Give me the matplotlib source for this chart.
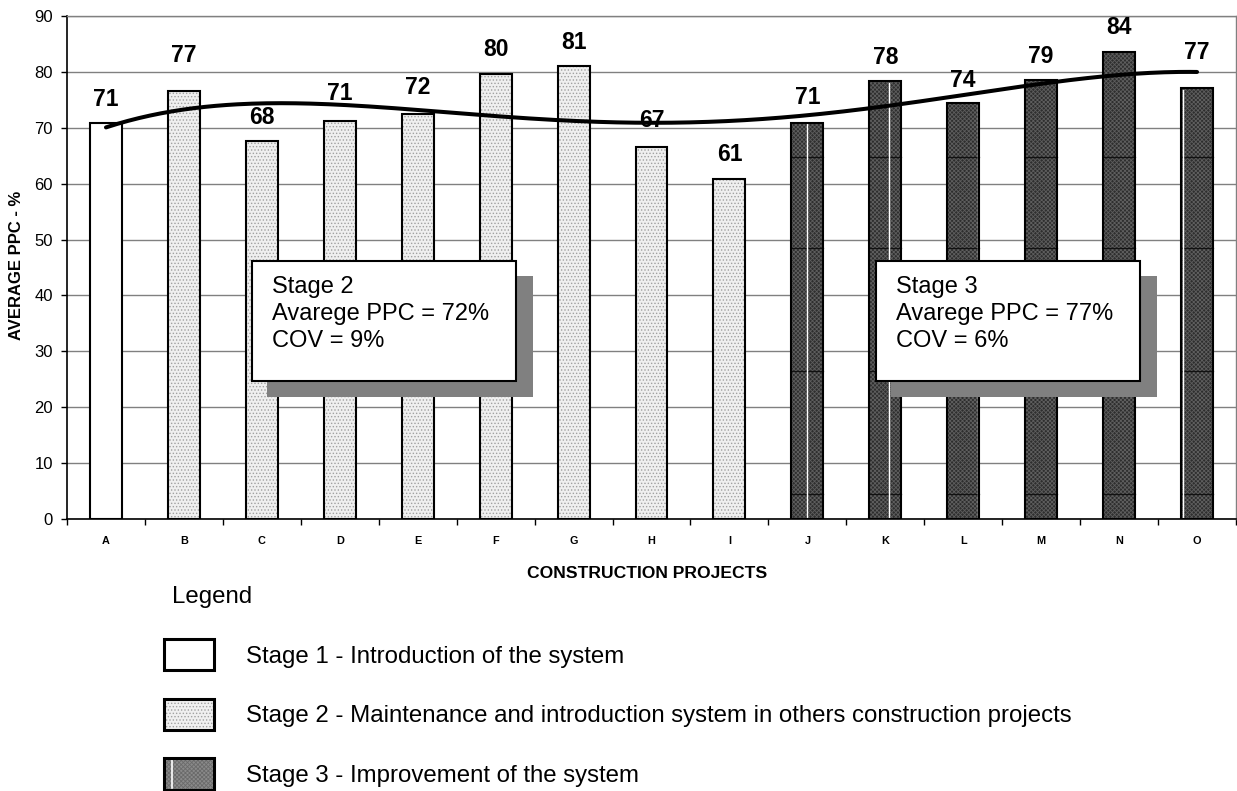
import numpy as np
import matplotlib
matplotlib.use("Agg")
import matplotlib.pyplot as plt
from matplotlib.patches import Rectangle

plt.rcParams['font.family'] = ['Liberation Sans', 'DejaVu Sans']
plt.rcParams['hatch.linewidth'] = 0.6

# ---- data ----
projects = ["A", "B", "C", "D", "E", "F", "G", "H", "I", "J", "K", "L", "M", "N", "O"]
ppc = [70.8, 76.6, 67.6, 71.3, 72.4, 79.6, 81.1, 66.6, 60.8, 70.9, 78.4, 74.4, 78.5, 83.6, 77.1]
stage = [1, 2, 2, 2, 2, 2, 2, 2, 2, 3, 3, 3, 3, 3, 3]
labels = ["71", "77", "68", "71", "72", "80", "81", "67", "61", "71", "78", "74", "79", "84", "77"]
label_offset = [4.3, 6.4, 4.3, 4.8, 4.8, 4.4, 4.2, 4.7, 4.5, 4.5, 4.2, 4.1, 4.2, 4.4, 6.3]
stage_stats = {2: ("72%", "9%"), 3: ("77%", "6%")}
legend_texts = ["Stage 1 - Introduction of the system",
                "Stage 2 - Maintenance and introduction system in others construction projects",
                "Stage 3 - Improvement of the system"]

W, H = 1237, 791
fig = plt.figure(figsize=(W / 100, H / 100), dpi=100)
L, R, T, B = 67, 1236, 16, 519
ax = fig.add_axes([L / W, 1 - B / H, (R - L) / W, (B - T) / H])

def fx(px):
    return px / W

def fy(py):
    return 1 - py / H

x = np.arange(len(projects))
ppc_arr = np.array(ppc)
stage_arr = np.array(stage)
bw = 0.41

styles = {
    1: dict(face="white", hatch=None, hcol="white"),
    2: dict(face="#efefef", hatch=".....", hcol="#a0a0a0"),
    3: dict(face="#2e2e2e", hatch="xxxxxxxx", hcol="#5e5e5e"),
}

for s in (1, 2, 3):
    m = stage_arr == s
    st = styles[s]
    ax.bar(x[m], ppc_arr[m], width=bw, color=st["face"], edgecolor=st["hcol"],
           hatch=st["hatch"], linewidth=0, zorder=2)
    ax.bar(x[m], ppc_arr[m], width=bw, facecolor="none", edgecolor="black",
           linewidth=1.5, zorder=3)
    if s == 3:
        for xi, v in zip(x[m], ppc_arr[m]):
            for yl in (4.4, 26.4, 48.4, 64.8):
                if yl < v:
                    ax.plot([xi - bw / 2, xi + bw / 2], [yl, yl], color="#111111",
                            lw=0.9, zorder=2.5)

# thin white streaks visible in some stage-3 bars of the original
streaks = {"J": 0.0, "K": 0.045, "L": 0.185, "O": -0.18}
for name, dx in streaks.items():
    i = projects.index(name)
    ax.plot([i + dx, i + dx], [0.3, ppc[i] - 0.3], color="white", lw=1.0, zorder=2.6)

# value labels
for xi, v, lab, off in zip(x, ppc, labels, label_offset):
    ax.text(xi, v + off, lab, ha="center", va="center", fontsize=16.5,
            fontweight="bold", zorder=6)

# polynomial trendline (4th order, as in the original spreadsheet chart)
coef = np.polyfit(x, ppc_arr, 4)
xs = np.linspace(x[0], x[-1], 300)
ax.plot(xs, np.polyval(coef, xs), color="black", lw=2.9, solid_capstyle="round", zorder=5)

# axes styling
ax.set_xlim(-0.5, len(projects) - 0.5)
ax.set_ylim(0, 90)
ax.set_yticks(np.arange(0, 91, 10))
ax.yaxis.grid(True, color="#808080", lw=1.0)
ax.set_axisbelow(True)
ax.set_xticks(x)
ax.set_xticklabels(projects, fontsize=7.8, fontweight="bold")
ax.set_xticks(np.arange(-0.5, len(projects), 1.0), minor=True)
ax.tick_params(axis="x", which="major", length=0, pad=12)
ax.tick_params(axis="x", which="minor", length=4, width=1, color="black", direction="out")
ax.tick_params(axis="y", length=4, width=1, pad=6, labelsize=12)
for side in ("top", "right"):
    ax.spines[side].set_color("#808080")
    ax.spines[side].set_linewidth(1.0)
for side in ("left", "bottom"):
    ax.spines[side].set_color("black")
    ax.spines[side].set_linewidth(1.2)

fig.text(fx(17), fy(265), "AVERAGE PPC - %", rotation=90, ha="center", va="center",
         fontsize=12, fontweight="bold")
fig.text(fx(647), fy(574), "CONSTRUCTION PROJECTS", ha="center", va="center",
         fontsize=12.6, fontweight="bold")

# stage statistics boxes with shadow
for s, bx in ((2, 252), (3, 876)):
    avg, cov = stage_stats[s]
    fig.patches.append(Rectangle((fx(bx + 15), fy(397)), 266 / W, 121 / H,
                                 transform=fig.transFigure, facecolor="#808080",
                                 edgecolor="none", zorder=7))
    fig.patches.append(Rectangle((fx(bx), fy(381)), 264 / W, 120 / H,
                                 transform=fig.transFigure, facecolor="white",
                                 edgecolor="black", lw=1.5, zorder=8))
    for yb, line in zip((293, 320, 347), (f"Stage {s}", f"Avarege PPC = {avg}", f"COV = {cov}")):
        fig.text(fx(bx + 20), fy(yb), line, ha="left", va="baseline", fontsize=17, zorder=9)

# legend
fig.text(fx(172), fy(603), "Legend", ha="left", va="baseline", fontsize=17.3)
leg_styles = {1: ("white", "white", None), 2: ("#efefef", "#a0a0a0", "....."),
              3: ("#8a8a8a", "#6a6a6a", "xxxxxxxx")}
for s, txt, (top, bot), base in zip((1, 2, 3), legend_texts,
                                    ((639, 670), (699, 730), (758, 790)),
                                    (663, 722, 782)):
    face, hc, hatch = leg_styles[s]
    fig.patches.append(Rectangle((fx(164), fy(bot)), 50 / W, (bot - top) / H,
                                 transform=fig.transFigure, facecolor=face, edgecolor=hc,
                                 hatch=hatch, lw=0, zorder=7))
    if s == 3:
        fig.lines.append(plt.Line2D([fx(172), fx(172)], [fy(bot - 2), fy(top + 2)],
                                    transform=fig.transFigure, color="white", lw=1.2,
                                    zorder=7.5))
    fig.patches.append(Rectangle((fx(164), fy(bot)), 50 / W, (bot - top) / H,
                                 transform=fig.transFigure, facecolor="none",
                                 edgecolor="black", lw=2.2, zorder=8))
    fig.text(fx(246), fy(base), txt, ha="left", va="baseline", fontsize=17.3)

fig.savefig("out.png", dpi=100)
